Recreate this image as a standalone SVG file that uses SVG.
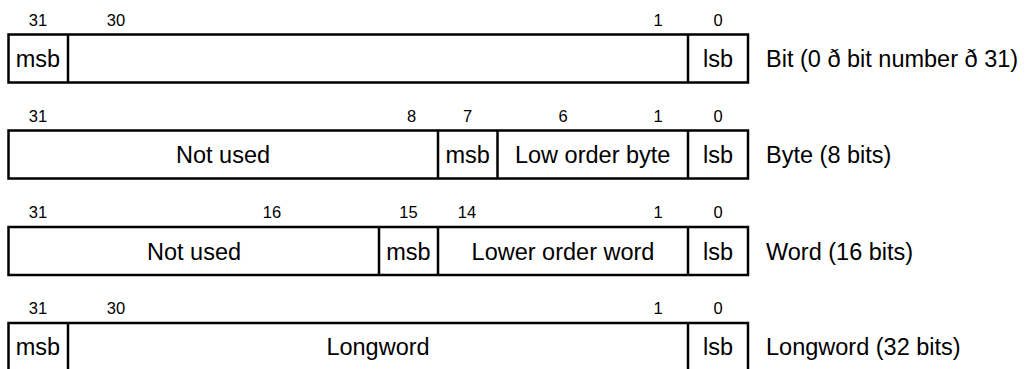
<svg xmlns="http://www.w3.org/2000/svg" width="1026" height="369" viewBox="0 0 1026 369">
<style>
.box{fill:#fff;stroke:#000;stroke-width:2.5}
.div{stroke:#000;stroke-width:2.5}
text{font-family:"Liberation Sans",Arial,sans-serif;fill:#000}
.n{font-size:16.5px;text-anchor:middle}
.c{font-size:23.5px;text-anchor:middle}
.l{font-size:23.5px}
</style>
<rect width="1026" height="369" fill="#fff"/>
<g id="bit">
<rect class="box" x="8.5" y="34.5" width="739.5" height="48"/>
<line class="div" x1="68" y1="34.5" x2="68" y2="82.5"/>
<line class="div" x1="688" y1="34.5" x2="688" y2="82.5"/>
<text class="n" x="38" y="25.5">31</text>
<text class="n" x="116" y="25.5">30</text>
<text class="n" x="658" y="25.5">1</text>
<text class="n" x="718" y="25.5">0</text>
<text class="c" x="38" y="67">msb</text>
<text class="c" x="718" y="67">lsb</text>
<text class="l" x="766" y="67">Bit (0 ð bit number ð 31)</text>
</g>
<g id="byte">
<rect class="box" x="8.5" y="130.5" width="739.5" height="48"/>
<line class="div" x1="438" y1="130.5" x2="438" y2="178.5"/>
<line class="div" x1="497.5" y1="130.5" x2="497.5" y2="178.5"/>
<line class="div" x1="688" y1="130.5" x2="688" y2="178.5"/>
<text class="n" x="38" y="121.5">31</text>
<text class="n" x="411.5" y="121.5">8</text>
<text class="n" x="467.5" y="121.5">7</text>
<text class="n" x="563" y="121.5">6</text>
<text class="n" x="658" y="121.5">1</text>
<text class="n" x="718" y="121.5">0</text>
<text class="c" x="223" y="163">Not used</text>
<text class="c" x="467.7" y="163">msb</text>
<text class="c" x="592.7" y="163">Low order byte</text>
<text class="c" x="718" y="163">lsb</text>
<text class="l" x="766" y="163">Byte (8 bits)</text>
</g>
<g id="word">
<rect class="box" x="8.5" y="227" width="739.5" height="48"/>
<line class="div" x1="379" y1="227" x2="379" y2="275"/>
<line class="div" x1="438" y1="227" x2="438" y2="275"/>
<line class="div" x1="688" y1="227" x2="688" y2="275"/>
<text class="n" x="38" y="217.5">31</text>
<text class="n" x="272" y="217.5">16</text>
<text class="n" x="408.5" y="217.5">15</text>
<text class="n" x="467" y="217.5">14</text>
<text class="n" x="658" y="217.5">1</text>
<text class="n" x="718" y="217.5">0</text>
<text class="c" x="194" y="259.5">Not used</text>
<text class="c" x="408.5" y="259.5">msb</text>
<text class="c" x="563" y="259.5">Lower order word</text>
<text class="c" x="718" y="259.5">lsb</text>
<text class="l" x="766" y="259.5">Word (16 bits)</text>
</g>
<g id="longword">
<rect class="box" x="8.5" y="323" width="739.5" height="48"/>
<line class="div" x1="68" y1="323" x2="68" y2="371"/>
<line class="div" x1="688" y1="323" x2="688" y2="371"/>
<text class="n" x="38" y="313.5">31</text>
<text class="n" x="116" y="313.5">30</text>
<text class="n" x="658" y="313.5">1</text>
<text class="n" x="718" y="313.5">0</text>
<text class="c" x="38" y="355">msb</text>
<text class="c" x="378" y="355">Longword</text>
<text class="c" x="718" y="355">lsb</text>
<text class="l" x="766" y="355">Longword (32 bits)</text>
</g>
<g id="connectors"></g>
</svg>
